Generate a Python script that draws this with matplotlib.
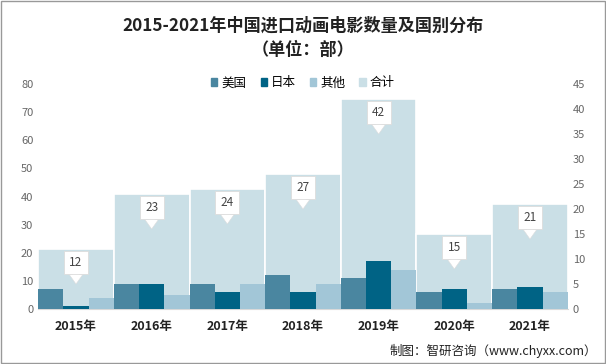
import matplotlib.pyplot as plt
import numpy as np
from matplotlib.patches import Patch

plt.rcParams['font.family'] = ['Noto Sans CJK SC', 'DejaVu Sans']

years = ['2015年', '2016年', '2017年', '2018年', '2019年', '2020年', '2021年']
usa = [7, 9, 9, 12, 11, 6, 7]
japan = [1, 9, 6, 6, 17, 7, 8]
other = [4, 5, 9, 9, 14, 2, 6]
total = [12, 23, 24, 27, 42, 15, 21]

c_usa = '#4a86a0'
c_jp = '#006385'
c_other = '#a2c6d7'
c_total = '#cadfe6'

fig = plt.figure(figsize=(6.06, 3.64), dpi=100, facecolor='w')
ax = fig.add_axes([0.063, 0.151, 0.874, 0.618])
ax2 = ax.twinx()

x = np.arange(len(years))
w = 1 / 3

# totals on the right axis, drawn behind
ax2.bar(x, total, width=1.0, color=c_total, edgecolor='white', linewidth=1.2, zorder=1)
for xi, t in zip(x, total):
    ax2.annotate('', xy=(xi, t - 7.0), xytext=(xi, t - 4.5),
                 arrowprops=dict(arrowstyle='simple,head_width=1.0,head_length=0.7,tail_width=0.45',
                                 fc='white', ec='#dcdcdc', lw=0.4, mutation_scale=10,
                                 shrinkA=0, shrinkB=0))
    ax2.text(xi, t - 2.7, str(t), ha='center', va='center', fontsize=8.5, color='#444444',
             bbox=dict(boxstyle='square,pad=0.45', fc='white', ec='#dcdcdc', lw=0.6))

ax.set_zorder(ax2.get_zorder() + 1)
ax.patch.set_visible(False)
ax.bar(x - w, usa, width=w, color=c_usa, zorder=3)
ax.bar(x, japan, width=w, color=c_jp, zorder=3)
ax.bar(x + w, other, width=w, color=c_other, zorder=3)

ax.set_xlim(-0.5, len(years) - 0.5)
ax.set_ylim(0, 80)
ax2.set_ylim(0, 45)
ax.set_yticks(range(0, 81, 10))
ax2.set_yticks(range(0, 46, 5))
ax.set_xticks(x)
ax.set_xticklabels(years, fontsize=9, fontweight='bold', color='#222222')
ax.tick_params(axis='x', length=0, pad=8)
ax.tick_params(axis='y', length=0, labelsize=8, labelcolor='#666666')
ax2.tick_params(axis='y', length=0, labelsize=8, labelcolor='#666666')
for a in (ax, ax2):
    for s in a.spines.values():
        s.set_visible(False)
ax.spines['bottom'].set_visible(True)
ax.spines['bottom'].set_color('#d9d9d9')

handles = [Patch(color=c_usa), Patch(color=c_jp), Patch(color=c_other), Patch(color=c_total)]
fig.legend(handles, ['美国', '日本', '其他', '合计'], loc='center', bbox_to_anchor=(0.5, 0.772),
           ncol=4, frameon=False, fontsize=9, handlelength=0.5, handleheight=0.5,
           handletextpad=0.35, columnspacing=1.1)

fig.text(0.5, 0.93, '2015-2021年中国进口动画电影数量及国别分布', ha='center', va='center',
         fontsize=12.3, fontweight='bold', color='#222222')
fig.text(0.5, 0.862, '（单位：部）', ha='center', va='center',
         fontsize=12.3, fontweight='bold', color='#222222')
fig.text(0.985, 0.035, '制图：智研咨询（www.chyxx.com）', ha='right', va='center',
         fontsize=9, color='#222222')

fig.patches.append(plt.Rectangle((0.002, 0.003), 0.996, 0.994, transform=fig.transFigure,
                                 fill=False, ec='#999999', lw=1))

fig.savefig('out.png', dpi=100)
